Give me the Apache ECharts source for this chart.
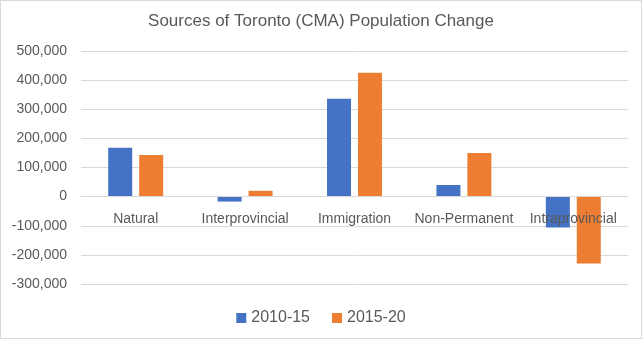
<!DOCTYPE html>
<html>
<head>
<meta charset="utf-8">
<script src="https://cdn.jsdelivr.net/npm/echarts@6/dist/echarts.min.js"></script>
<style>
html,body{margin:0;padding:0;background:#fff;}
#c{width:640px;height:337px;border:1px solid #d9d9d9;}
</style>
</head>
<body>
<div id="c"></div>
<script>
const categories = ['Natural', 'Interprovincial', 'Immigration', 'Non-Permanent', 'Intraprovincial'];
const series2010 = [168000, -17000, 336000, 40000, -106000];
const series2015 = [143000, 20000, 425000, 150000, -230000];
const seriesNames = ['2010-15', '2015-20'];
const yMin = -300000, yMax = 500000;
const FONT = 'Liberation Sans';
const gridTop = 50, gridBottom = 54, H = 337;
const plotH = H - gridTop - gridBottom;
const zeroOffset = -plotH * (0 - yMin) / (yMax - yMin);
const chart = echarts.init(document.getElementById('c'));
chart.setOption({
  animation: false,
  title: {
    text: 'Sources of Toronto (CMA) Population Change',
    left: 'center', top: 7,
    textStyle: {fontFamily: FONT, fontSize: 17, fontWeight: 'normal', color: '#595959'}
  },
  legend: {
    data: seriesNames, bottom: 7, left: 'center',
    icon: 'rect', itemWidth: 10, itemHeight: 10, itemGap: 22,
    textStyle: {fontFamily: FONT, fontSize: 16, color: '#595959'}
  },
  grid: {left: 80, right: 13, top: gridTop, bottom: gridBottom, containLabel: false},
  xAxis: {
    type: 'category', data: categories, offset: zeroOffset, z: 5,
    axisLine: {show: true, onZero: false, lineStyle: {color: '#d9d9d9'}},
    axisTick: {show: false},
    axisLabel: {fontFamily: FONT, fontSize: 14, color: '#595959', margin: 16, interval: 0}
  },
  yAxis: {
    type: 'value', min: yMin, max: yMax, interval: 100000,
    axisLine: {show: false}, axisTick: {show: false},
    splitLine: {lineStyle: {color: '#d9d9d9'}},
    axisLabel: {fontFamily: FONT, fontSize: 14, color: '#595959', margin: 14,
      formatter: v => v.toLocaleString('en-US')}
  },
  series: [
    {name: seriesNames[0], type: 'bar', data: series2010, itemStyle: {color: '#4472C4'}, barWidth: 24, barGap: '29%', z: 2},
    {name: seriesNames[1], type: 'bar', data: series2015, itemStyle: {color: '#ED7D31'}, barWidth: 24, barGap: '29%', z: 2}
  ]
});
</script>
</body>
</html>
